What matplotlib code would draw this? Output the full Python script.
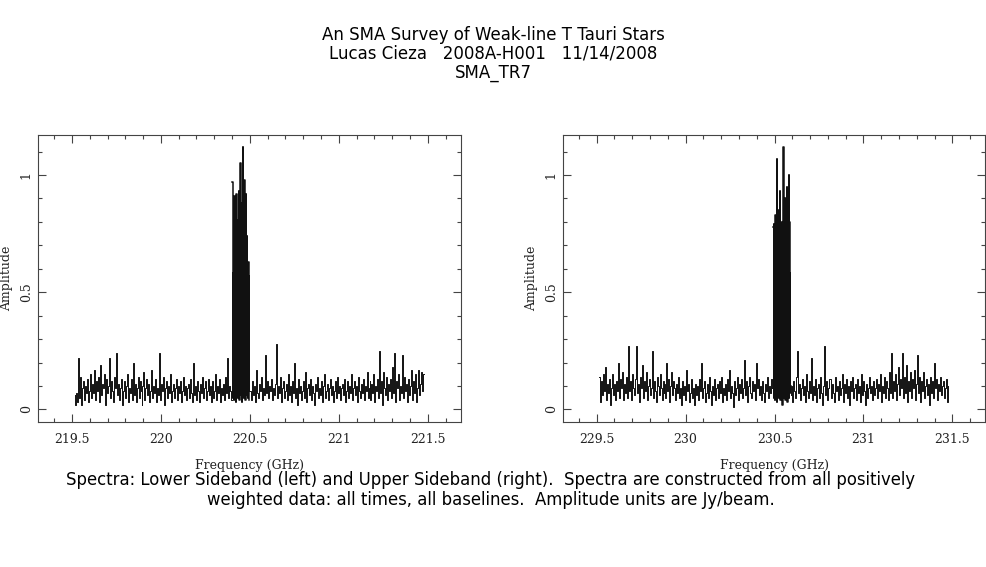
import numpy as np
import matplotlib
matplotlib.use("Agg")
import matplotlib.pyplot as plt
from matplotlib.ticker import MultipleLocator

# ---- data (amplitude in Jy/beam) ----
# lower sideband: noise below line, line chunk, noise above line
lsb_edges = [(219.517, 220.398), (220.402, 220.497), (220.502, 221.478)]
lsb_noise_lo = [
    0.06, 0.02, 0.07, 0.03, 0.22, 0.05, 0.14, 0.02, 0.09, 0.12, 0.04, 0.10, 0.07, 0.13, 0.03, 0.08, 0.15, 0.05, 0.11, 0.07,
    0.17, 0.04, 0.12, 0.08, 0.14, 0.03, 0.19, 0.06, 0.11, 0.09, 0.15, 0.02, 0.13, 0.07, 0.10, 0.22, 0.05, 0.12, 0.08, 0.03,
    0.14, 0.09, 0.24, 0.06, 0.11, 0.04, 0.09, 0.13, 0.02, 0.08, 0.12, 0.05, 0.10, 0.15, 0.03, 0.09, 0.07, 0.13, 0.04, 0.20,
    0.06, 0.11, 0.03, 0.09, 0.14, 0.05, 0.12, 0.08, 0.02, 0.10, 0.16, 0.04, 0.09, 0.13, 0.06, 0.11, 0.03, 0.08, 0.17, 0.05,
    0.10, 0.07, 0.13, 0.03, 0.09, 0.06, 0.24, 0.04, 0.11, 0.08, 0.14, 0.02, 0.09, 0.12, 0.05, 0.10, 0.07, 0.15, 0.03, 0.08,
    0.11, 0.05, 0.09, 0.13, 0.04, 0.10, 0.07, 0.12, 0.03, 0.08, 0.14, 0.06, 0.10, 0.04, 0.09, 0.11, 0.05, 0.13, 0.07, 0.03,
    0.20, 0.06, 0.10, 0.04, 0.12, 0.08, 0.03, 0.11, 0.07, 0.14, 0.05, 0.09, 0.12, 0.04, 0.08, 0.13, 0.06, 0.10, 0.03, 0.09,
    0.12, 0.05, 0.08, 0.15, 0.04, 0.10, 0.07, 0.13, 0.03, 0.09, 0.06, 0.11, 0.04, 0.14, 0.07, 0.22, 0.05, 0.10, 0.08, 0.04,
]
lsb_line = [
    0.97, 0.05, 0.58, 0.09, 0.72, 0.04, 0.91, 0.12, 0.45, 0.06, 0.66, 0.03, 0.92, 0.15, 0.52, 0.07, 0.81, 0.05, 0.70, 0.10,
    0.93, 0.04, 0.62, 0.08, 1.05, 0.06, 0.55, 0.11, 0.88, 0.03, 0.76, 0.09, 1.12, 0.05, 0.64, 0.13, 0.98, 0.07, 0.57, 0.04,
    0.92, 0.10, 0.69, 0.06, 0.74, 0.12, 0.51, 0.05, 0.63, 0.08, 0.57, 0.04,
]
lsb_noise_hi = [
    0.08, 0.04, 0.12, 0.06, 0.10, 0.03, 0.17, 0.07, 0.05, 0.11, 0.08, 0.14, 0.04, 0.09, 0.06, 0.23, 0.07, 0.12, 0.05, 0.10,
    0.08, 0.13, 0.04, 0.09, 0.06, 0.11, 0.28, 0.05, 0.10, 0.07, 0.14, 0.03, 0.09, 0.12, 0.05, 0.08, 0.11, 0.04, 0.15, 0.06,
    0.10, 0.03, 0.12, 0.07, 0.20, 0.05, 0.09, 0.02, 0.13, 0.07, 0.10, 0.04, 0.08, 0.12, 0.05, 0.16, 0.03, 0.09, 0.11, 0.06,
    0.13, 0.04, 0.10, 0.07, 0.02, 0.11, 0.08, 0.14, 0.05, 0.09, 0.06, 0.12, 0.03, 0.10, 0.15, 0.05, 0.08, 0.11, 0.04, 0.09,
    0.13, 0.06, 0.10, 0.03, 0.08, 0.12, 0.05, 0.14, 0.07, 0.10, 0.04, 0.09, 0.11, 0.06, 0.13, 0.03, 0.08, 0.12, 0.05, 0.10,
    0.07, 0.15, 0.04, 0.09, 0.12, 0.06, 0.10, 0.03, 0.14, 0.08, 0.05, 0.11, 0.07, 0.13, 0.04, 0.10, 0.08, 0.16, 0.05, 0.09,
    0.12, 0.04, 0.11, 0.07, 0.15, 0.03, 0.10, 0.08, 0.13, 0.05, 0.25, 0.07, 0.12, 0.02, 0.16, 0.09, 0.06, 0.14, 0.04, 0.11,
    0.08, 0.13, 0.05, 0.18, 0.07, 0.24, 0.03, 0.12, 0.09, 0.15, 0.04, 0.10, 0.07, 0.23, 0.05, 0.14, 0.08, 0.11, 0.03, 0.13,
    0.06, 0.10, 0.17, 0.04, 0.12, 0.07, 0.15, 0.03, 0.09, 0.17, 0.06, 0.11, 0.16, 0.08, 0.15,
]

# upper sideband
usb_edges = [(229.515, 230.488), (230.494, 230.590), (230.592, 231.478)]
usb_noise_lo = [
    0.14, 0.03, 0.12, 0.06, 0.15, 0.08, 0.18, 0.04, 0.11, 0.07, 0.13, 0.02, 0.09, 0.15, 0.06, 0.11, 0.04, 0.12, 0.08, 0.20,
    0.05, 0.13, 0.09, 0.16, 0.04, 0.11, 0.07, 0.14, 0.05, 0.27, 0.08, 0.12, 0.04, 0.15, 0.09, 0.06, 0.13, 0.27, 0.07, 0.11,
    0.03, 0.14, 0.09, 0.19, 0.05, 0.12, 0.08, 0.16, 0.04, 0.10, 0.13, 0.06, 0.09, 0.25, 0.05, 0.12, 0.08, 0.03, 0.14, 0.10,
    0.06, 0.15, 0.09, 0.04, 0.12, 0.07, 0.11, 0.05, 0.20, 0.08, 0.13, 0.03, 0.10, 0.16, 0.06, 0.12, 0.09, 0.04, 0.11, 0.07,
    0.14, 0.05, 0.09, 0.02, 0.12, 0.06, 0.10, 0.04, 0.17, 0.08, 0.11, 0.03, 0.07, 0.13, 0.05, 0.09, 0.02, 0.11, 0.06, 0.10,
    0.04, 0.13, 0.08, 0.20, 0.05, 0.09, 0.12, 0.03, 0.07, 0.11, 0.05, 0.14, 0.08, 0.02, 0.10, 0.06, 0.13, 0.04, 0.09, 0.11,
    0.05, 0.12, 0.07, 0.14, 0.03, 0.09, 0.06, 0.11, 0.04, 0.13, 0.08, 0.17, 0.05, 0.10, 0.07, 0.01, 0.12, 0.06, 0.09, 0.14,
    0.04, 0.11, 0.07, 0.13, 0.05, 0.09, 0.21, 0.06, 0.12, 0.03, 0.10, 0.14, 0.07, 0.05, 0.12, 0.08, 0.11, 0.04, 0.20, 0.09,
    0.13, 0.06, 0.10, 0.04, 0.12, 0.07, 0.03, 0.11, 0.08, 0.14, 0.05, 0.10, 0.07, 0.13, 0.09,
]
usb_line = [
    0.78, 0.05, 0.79, 0.08, 0.62, 0.04, 0.83, 0.10, 0.70, 0.03, 1.07, 0.07, 0.76, 0.12, 0.85, 0.05, 0.60, 0.09, 0.93, 0.04,
    0.75, 0.11, 0.80, 0.06, 0.68, 0.02, 0.78, 0.08, 1.12, 0.05, 0.82, 0.10, 0.90, 0.04, 0.72, 0.07, 0.79, 0.12, 0.95, 0.03,
    0.66, 0.09, 1.00, 0.05, 0.80, 0.07, 0.58, 0.10,
]
usb_noise_hi = [
    0.06, 0.10, 0.03, 0.12, 0.08, 0.05, 0.14, 0.25, 0.07, 0.11, 0.04, 0.09, 0.13, 0.06, 0.10, 0.03, 0.15, 0.08, 0.05, 0.12,
    0.07, 0.22, 0.04, 0.10, 0.06, 0.13, 0.03, 0.09, 0.11, 0.05, 0.14, 0.07, 0.02, 0.10, 0.27, 0.06, 0.12, 0.04, 0.09, 0.13,
    0.05, 0.11, 0.07, 0.03, 0.14, 0.08, 0.10, 0.04, 0.12, 0.06, 0.09, 0.15, 0.03, 0.11, 0.07, 0.13, 0.05, 0.10, 0.02, 0.12,
    0.08, 0.14, 0.05, 0.09, 0.11, 0.04, 0.13, 0.07, 0.10, 0.03, 0.15, 0.06, 0.12, 0.08, 0.02, 0.11, 0.05, 0.09, 0.14, 0.07,
    0.10, 0.04, 0.12, 0.06, 0.09, 0.13, 0.05, 0.11, 0.08, 0.15, 0.03, 0.10, 0.07, 0.14, 0.05, 0.12, 0.09, 0.04, 0.16, 0.07,
    0.24, 0.05, 0.12, 0.08, 0.15, 0.04, 0.11, 0.18, 0.06, 0.13, 0.09, 0.24, 0.05, 0.14, 0.07, 0.19, 0.03, 0.12, 0.08, 0.16,
    0.05, 0.13, 0.09, 0.17, 0.04, 0.11, 0.23, 0.07, 0.14, 0.03, 0.12, 0.08, 0.16, 0.05, 0.10, 0.13, 0.06, 0.11, 0.02, 0.14,
    0.07, 0.12, 0.05, 0.20, 0.09, 0.13, 0.04, 0.11, 0.08, 0.14, 0.06, 0.10, 0.12, 0.05, 0.09, 0.13, 0.03, 0.10,
]

lsb_xlim = (219.311, 221.685)
usb_xlim = (229.312, 231.684)
ylim = (-0.054, 1.171)
lsb_ticks = [219.5, 220, 220.5, 221, 221.5]
usb_ticks = [229.5, 230, 230.5, 231, 231.5]

title_lines = [
    "An SMA Survey of Weak-line T Tauri Stars",
    "Lucas Cieza   2008A-H001   11/14/2008",
    "SMA_TR7",
]
caption_lines = [
    "Spectra: Lower Sideband (left) and Upper Sideband (right).  Spectra are constructed from all positively",
    "weighted data: all times, all baselines.  Amplitude units are Jy/beam.",
]

AX_FONT = "DejaVu Serif"
FRAME = "#444444"


def draw_panel(ax, edges, segments, xlim, ticks):
    # noise chunks thin, the dense line chunk heavier so it reads solid black
    for (lo, hi), vals, lw in zip(edges, segments, (0.7, 1.1, 0.7)):
        freq = np.linspace(lo, hi, len(vals))
        ax.step(freq, vals, where="mid", color="#111111", lw=lw)
    ax.set_xlim(*xlim)
    ax.set_ylim(*ylim)
    ax.set_xticks(ticks)
    ax.set_xticklabels([f"{t:g}" for t in ticks])
    ax.set_yticks([0, 0.5, 1])
    ax.set_yticklabels(["0", "0.5", "1"], rotation=90, va="center")
    ax.xaxis.set_minor_locator(MultipleLocator(0.1))
    ax.yaxis.set_minor_locator(MultipleLocator(0.1))
    ax.tick_params(which="both", direction="in", top=True, right=True,
                   color=FRAME, labelcolor="#222222", labelsize=9)
    ax.tick_params(axis="x", which="both", pad=8)
    ax.tick_params(axis="y", which="both", pad=4)
    ax.tick_params(which="major", length=6, width=0.8)
    ax.tick_params(which="minor", length=3, width=0.8)
    for lab in ax.get_xticklabels() + ax.get_yticklabels():
        lab.set_family(AX_FONT)
    for sp in ax.spines.values():
        sp.set_color(FRAME)
        sp.set_linewidth(0.8)
    ax.set_xlabel("Frequency (GHz)", family=AX_FONT, fontsize=9, color="#222222", labelpad=9)
    ax.set_ylabel("Amplitude", family=AX_FONT, fontsize=9, color="#222222", labelpad=5)


fig = plt.figure(figsize=(9.87, 5.67), dpi=100)
ax_l = fig.add_axes([0.0388, 0.2557, 0.4280, 0.5062])
ax_r = fig.add_axes([0.5707, 0.2557, 0.4273, 0.5062])

draw_panel(ax_l, lsb_edges, [lsb_noise_lo, lsb_line, lsb_noise_hi], lsb_xlim, lsb_ticks)
draw_panel(ax_r, usb_edges, [usb_noise_lo, usb_line, usb_noise_hi], usb_xlim, usb_ticks)

for i, line in enumerate(title_lines):
    fig.text(0.5, 1 - (35 + 19 * i) / 567, line, ha="center", va="center",
             fontsize=12, family="DejaVu Sans")
for i, line in enumerate(caption_lines):
    fig.text(0.4975, 1 - (480 + 20 * i) / 567, line, ha="center", va="center",
             fontsize=11.9, family="DejaVu Sans")

fig.savefig("out.png", dpi=100)
